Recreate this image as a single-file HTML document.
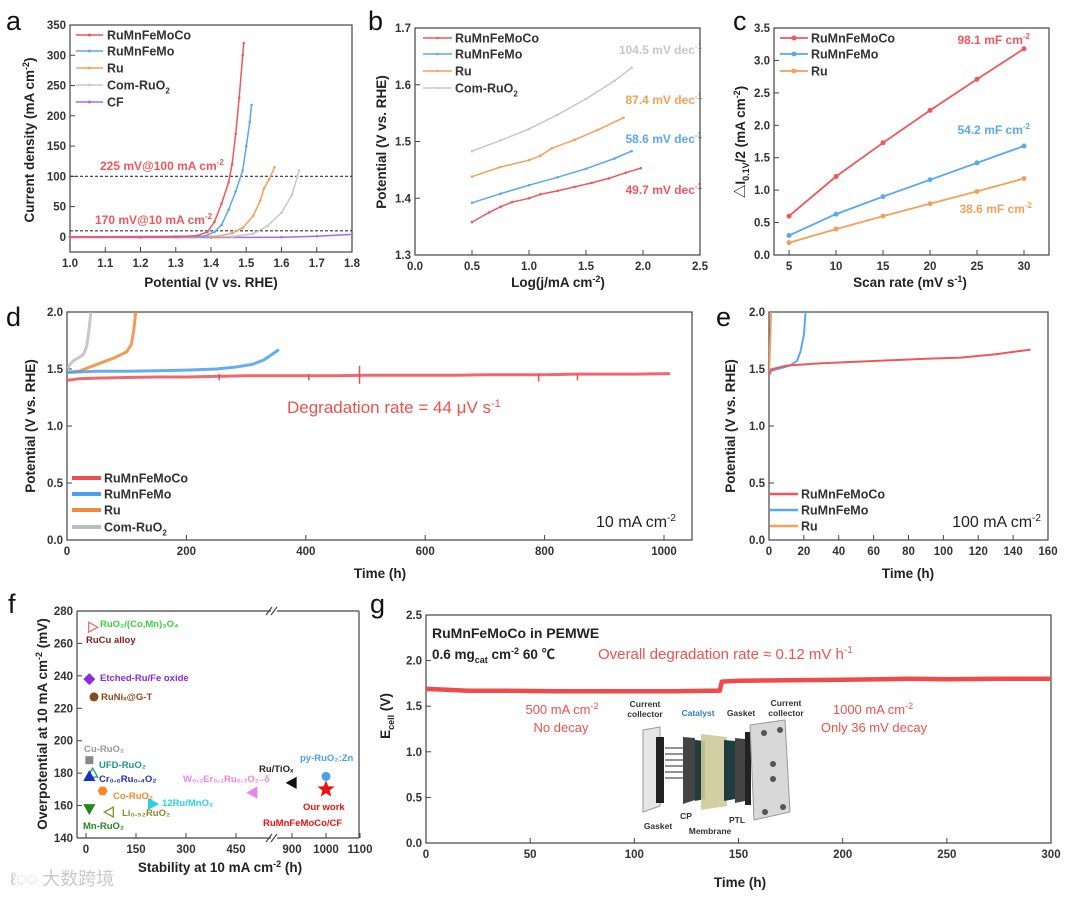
<!DOCTYPE html>
<html><head><meta charset="utf-8">
<style>
html,body{margin:0;padding:0;background:#fff;}
svg{display:block;font-family:"Liberation Sans","Noto Sans CJK SC",sans-serif;}
.t{font-size:11.5px;font-weight:bold;fill:#333;}
.ti{font-size:13.5px;font-weight:bold;fill:#222;}
.lg{font-size:12.5px;font-weight:bold;fill:#333;}
.pl{font-size:27px;fill:#111;}
</style></head>
<body>
<svg id="fig" width="1080" height="897" viewBox="0 0 1080 897" xmlns="http://www.w3.org/2000/svg">
<g id="static">
<text class="pl" x="6" y="30">a</text>
<text class="pl" x="368" y="30">b</text>
<text class="pl" x="733" y="30">c</text>
<text class="pl" x="6" y="326">d</text>
<text class="pl" x="716" y="326">e</text>
<text class="pl" x="8" y="613">f</text>
<text class="pl" x="370" y="613">g</text>

<text class="ti" x="211" y="287" text-anchor="middle">Potential (V vs. RHE)</text>
<text class="ti" transform="translate(34,140) rotate(-90)" text-anchor="middle">Current density (mA cm<tspan dy="-5" font-size="9">-2</tspan><tspan dy="5">)</tspan></text>
<text class="ti" x="558" y="287" text-anchor="middle">Log(j/mA cm<tspan dy="-5" font-size="9">-2</tspan><tspan dy="5">)</tspan></text>
<text class="ti" transform="translate(386,142) rotate(-90)" text-anchor="middle">Potential (V vs. RHE)</text>
<text class="ti" x="910" y="287" text-anchor="middle">Scan rate (mV s<tspan dy="-5" font-size="9">-1</tspan><tspan dy="5">)</tspan></text>
<text class="ti" transform="translate(745,142) rotate(-90)" text-anchor="middle">△I<tspan dy="4" font-size="9">0.1V</tspan><tspan dy="-4">/2 (mA cm</tspan><tspan dy="-5" font-size="9">-2</tspan><tspan dy="5">)</tspan></text>
<text class="ti" x="380" y="578" text-anchor="middle">Time (h)</text>
<text class="ti" transform="translate(35,426) rotate(-90)" text-anchor="middle">Potential (V vs. RHE)</text>
<text class="ti" x="908" y="578" text-anchor="middle">Time (h)</text>
<text class="ti" transform="translate(735,426) rotate(-90)" text-anchor="middle">Potential (V vs. RHE)</text>
<text class="ti" x="220" y="872" text-anchor="middle">Stability at 10 mA cm<tspan dy="-5" font-size="9">-2</tspan><tspan dy="5"> (h)</tspan></text>
<text class="ti" transform="translate(47,724) rotate(-90)" text-anchor="middle">Overpotential at 10 mA cm<tspan dy="-5" font-size="9">-2</tspan><tspan dy="5"> (mV)</tspan></text>
<text class="ti" x="740" y="887" text-anchor="middle">Time (h)</text>
<text class="ti" transform="translate(390,716) rotate(-90)" text-anchor="middle">E<tspan dy="4" font-size="9">cell</tspan><tspan dy="-4"> (V)</tspan></text>

<text x="100" y="170" font-size="12" font-weight="bold" fill="#f0575d">225 mV@100 mA cm<tspan dy="-5" font-size="8">-2</tspan></text>
<text x="95" y="224" font-size="12" font-weight="bold" fill="#f0575d">170 mV@10 mA cm<tspan dy="-5" font-size="8">-2</tspan></text>
<text x="702" y="54" font-size="12" font-weight="bold" fill="#c8c8c8" text-anchor="end">104.5 mV dec<tspan dy="-5" font-size="8">-1</tspan></text>
<text x="702" y="104" font-size="12" font-weight="bold" fill="#f5a05a" text-anchor="end">87.4 mV dec<tspan dy="-5" font-size="8">-1</tspan></text>
<text x="702" y="143" font-size="12" font-weight="bold" fill="#5aa8ee" text-anchor="end">58.6 mV dec<tspan dy="-5" font-size="8">-1</tspan></text>
<text x="702" y="194" font-size="12" font-weight="bold" fill="#f0575d" text-anchor="end">49.7 mV dec<tspan dy="-5" font-size="8">-1</tspan></text>
<text x="1030" y="44" font-size="12" font-weight="bold" fill="#f0575d" text-anchor="end">98.1 mF cm<tspan dy="-5" font-size="8">-2</tspan></text>
<text x="1030" y="134" font-size="12" font-weight="bold" fill="#5aa8ee" text-anchor="end">54.2 mF cm<tspan dy="-5" font-size="8">-2</tspan></text>
<text x="1032" y="213" font-size="12" font-weight="bold" fill="#f5a05a" text-anchor="end">38.6 mF cm<tspan dy="-5" font-size="8">-2</tspan></text>
<text x="287" y="413" font-size="17" fill="#f0504a">Degradation rate = 44 μV s<tspan dy="-6" font-size="11">-1</tspan></text>
<text x="676" y="527" font-size="16" fill="#222" text-anchor="end">10 mA cm<tspan dy="-6" font-size="10">-2</tspan></text>
<text x="1041" y="527" font-size="16" fill="#222" text-anchor="end">100 mA cm<tspan dy="-6" font-size="10">-2</tspan></text>

<text x="432" y="638" font-size="14" font-weight="bold" fill="#222">RuMnFeMoCo in PEMWE</text>
<text x="432" y="659" font-size="13.5" font-weight="bold" fill="#222">0.6 mg<tspan dy="4" font-size="9">cat</tspan><tspan dy="-4"> cm</tspan><tspan dy="-5" font-size="9">-2</tspan><tspan dy="5"> 60 ℃</tspan></text>
<text x="598" y="659" font-size="15" fill="#f0504a">Overall degradation rate ≈ 0.12 mV h<tspan dy="-6" font-size="10">-1</tspan></text>
<text x="562" y="714" font-size="13" fill="#f0504a" text-anchor="middle">500 mA cm<tspan dy="-5" font-size="9">-2</tspan></text>
<text x="561" y="732" font-size="13" fill="#f0504a" text-anchor="middle">No decay</text>
<text x="873" y="714" font-size="13" fill="#f0504a" text-anchor="middle">1000 mA cm<tspan dy="-5" font-size="9">-2</tspan></text>
<text x="874" y="732" font-size="13" fill="#f0504a" text-anchor="middle">Only 36 mV decay</text>

<g>
<polygon points="643,730 660,727 660,806 643,812" fill="#e6e6e6" stroke="#999"/>
<rect x="656" y="737" width="8" height="66" fill="#222"/>
<g stroke="#555" stroke-width="1.2"><line x1="665" y1="748" x2="683" y2="748"/><line x1="665" y1="754" x2="683" y2="754"/><line x1="665" y1="760" x2="683" y2="760"/><line x1="665" y1="766" x2="683" y2="766"/><line x1="665" y1="772" x2="683" y2="772"/><line x1="665" y1="778" x2="683" y2="778"/></g>
<polygon points="683,737 695,738 695,800 683,804" fill="#444"/>
<polygon points="695,740 705,741 705,799 695,801" fill="#1f3d3f"/>
<polygon points="701,734 727,737 727,806 701,810" fill="#cfc99a" opacity="0.9"/>
<polygon points="724,740 735,741 735,799 724,801" fill="#1f3d3f"/>
<polygon points="735,738 745,739 745,801 735,803" fill="#444"/>
<rect x="745" y="732" width="6" height="73" fill="#222"/>
<polygon points="750,725 785,720 790,812 754,820" fill="#d8d8d8" stroke="#999"/>
<circle cx="764" cy="733" r="3" fill="#555"/><circle cx="780" cy="730" r="3" fill="#555"/><circle cx="773" cy="764" r="3" fill="#555"/><circle cx="773" cy="779" r="3" fill="#555"/><circle cx="765" cy="812" r="3" fill="#555"/><circle cx="783" cy="807" r="3" fill="#555"/>
<g font-size="8.5" font-weight="bold" fill="#333" text-anchor="middle">
<text x="645" y="707">Current</text><text x="645" y="717">collector</text>
<text x="698" y="716" fill="#2c7fb8">Catalyst</text>
<text x="741" y="716">Gasket</text>
<text x="786" y="706">Current</text><text x="786" y="716">collector</text>
<text x="658" y="829">Gasket</text>
<text x="686" y="819">CP</text>
<text x="710" y="834">Membrane</text>
<text x="737" y="823">PTL</text>
</g>
</g>

<text x="10" y="885" font-size="18" fill="#c9c9c9">ℓ◌◌ 大数跨境</text>
</g>
<g id="plots"></g>
</svg>
<script>
// ---------- DATA ----------
const aPotRuMnFeMoCo = [1.0,1.30,1.36,1.39,1.41,1.43,1.45,1.46,1.47,1.48,1.49,1.493];
const aCurRuMnFeMoCo = [0,0.5,2,8,25,55,90,120,170,230,300,320];
const aPotRuMnFeMo = [1.0,1.38,1.41,1.43,1.45,1.47,1.49,1.50,1.51,1.515];
const aCurRuMnFeMo = [0,1,8,20,45,75,110,150,190,218];
const aPotRu = [1.0,1.42,1.46,1.49,1.52,1.54,1.55,1.565,1.58];
const aCurRu = [0,1,6,15,35,60,80,95,115];
const aPotRuO2 = [1.0,1.46,1.52,1.56,1.60,1.63,1.645,1.65];
const aCurRuO2 = [0,0.5,5,18,40,70,100,110];
const aPotCF = [1.0,1.2,1.4,1.6,1.7,1.8];
const aCurCF = [-1,-1,-1,-0.5,1,4];
const aXTicks = [1.0,1.1,1.2,1.3,1.4,1.5,1.6,1.7,1.8];
const aYTicks = [0,50,100,150,200,250,300,350];
const aRefLines = [100,10];
const bLogRuMnFeMoCo = [0.5,0.65,0.75,0.85,1.0,1.1,1.25,1.4,1.55,1.7,1.85,1.98];
const bPotRuMnFeMoCo = [1.358,1.375,1.385,1.393,1.400,1.407,1.413,1.420,1.427,1.435,1.445,1.453];
const bLogRuMnFeMo = [0.5,0.75,1.0,1.25,1.5,1.75,1.9];
const bPotRuMnFeMo = [1.392,1.408,1.423,1.437,1.452,1.470,1.483];
const bLogRu = [0.5,0.75,1.0,1.1,1.2,1.4,1.6,1.83];
const bPotRu = [1.438,1.455,1.467,1.475,1.488,1.503,1.520,1.542];
const bLogRuO2 = [0.5,0.75,1.0,1.25,1.5,1.75,1.9];
const bPotRuO2 = [1.483,1.502,1.522,1.547,1.575,1.607,1.630];
const bXTicks = [0.0,0.5,1.0,1.5,2.0,2.5];
const bYTicks = [1.3,1.4,1.5,1.6,1.7];
const cScan = [5,10,15,20,25,30];
const cRuMnFeMoCo = [0.60,1.21,1.73,2.23,2.71,3.18];
const cRuMnFeMo = [0.30,0.63,0.90,1.16,1.42,1.68];
const cRu = [0.19,0.40,0.60,0.79,0.98,1.18];
const cXTicks = [5,10,15,20,25,30];
const cYTicks = [0,0.5,1.0,1.5,2.0,2.5,3.0,3.5];
const dTimeRed = [0,20,50,100,150,200,250,300,350,400,450,500,550,600,650,700,750,800,850,900,950,1010];
const dPotRed = [1.40,1.415,1.42,1.425,1.43,1.43,1.435,1.44,1.44,1.44,1.44,1.445,1.445,1.445,1.445,1.45,1.45,1.45,1.455,1.455,1.455,1.46];
const dSpikeTimes = [255,405,490,790,855];
const dSpikeDepth = [0.04,0.04,0.07,0.05,0.04];
const dTimeBlue = [0,50,100,150,200,250,280,310,330,355];
const dPotBlue = [1.47,1.48,1.48,1.485,1.49,1.50,1.515,1.54,1.58,1.67];
const dTimeOrange = [0,20,40,60,80,100,108,112,115];
const dPotOrange = [1.47,1.48,1.52,1.56,1.60,1.65,1.72,1.85,2.0];
const dTimeGray = [0,5,10,20,28,33,37,40];
const dPotGray = [1.50,1.54,1.57,1.60,1.63,1.70,1.85,2.0];
const dXTicks = [0,200,400,600,800,1000];
const dYTicks = [0,0.5,1.0,1.5,2.0];
const eTimeRed = [0,1,2,10,30,60,90,110,130,150];
const ePotRed = [1.44,1.48,1.50,1.53,1.55,1.57,1.59,1.60,1.63,1.67];
const eTimeBlue = [0,5,12,16,18,20,21];
const ePotBlue = [1.48,1.50,1.53,1.57,1.65,1.80,2.0];
const eTimeOrange = [0,0.4,0.8,1.2];
const ePotOrange = [1.45,1.6,1.8,2.0];
const eXTicks = [0,20,40,60,80,100,120,140,160];
const eYTicks = [0,0.5,1.0,1.5,2.0];
const fNames = ["RuO2/(Co,Mn)3O4","Etched-Ru/Fe oxide","RuNix@G-T","Cu-RuO2","UFD-RuO2","Cr0.6Ru0.4O2","Co-RuO2","12Ru/MnO2","Mn-RuO2","Li0.52RuO2","W0.2Er0.1Ru0.7O2-δ","Ru/TiOx","py-RuO2:Zn","Our work"];
const fStability = [20,10,24,10,20,10,50,200,10,70,500,900,1000,1000];
const fOverpot = [270,238,227,188,180,178,169,161,158,156,168,174,178,170];
const fXTicks = [0,150,300,450,900,1000,1100];
const fYTicks = [140,160,180,200,220,240,260,280];
const gTime = [0,10,20,40,60,80,100,120,135,141,142,150,175,200,232,250,275,300];
const gVolt = [1.69,1.68,1.67,1.67,1.665,1.665,1.665,1.665,1.67,1.67,1.77,1.78,1.785,1.79,1.80,1.795,1.80,1.80];
const gXTicks = [0,50,100,150,200,250,300];
const gYTicks = [0,0.5,1.0,1.5,2.0,2.5];

// ---------- RENDER ----------
const NS = "http://www.w3.org/2000/svg";
const root = document.getElementById('plots');
function mk(tag, attrs, parent){
  const e = document.createElementNS(NS, tag);
  for (const k in attrs) e.setAttribute(k, attrs[k]);
  (parent||root).appendChild(e);
  return e;
}
function lin(d0,d1,r0,r1){ return v => r0 + (v-d0)/(d1-d0)*(r1-r0); }
const RED="#f0575d", BLUE="#5aa8ee", ORANGE="#f5a05a", GRAY="#c8c8c8", PURPLE="#a36cf0";

function frame(name,x0,y0,x1,y1){
  const r = mk('rect',{x:x0,y:y0,width:x1-x0,height:y1-y0,fill:'none',stroke:'#444','stroke-width':1.2});
  
  
}
function xTicks(name,ticks,sx,yb,fmt){
  ticks.forEach(v=>{
    const x=sx(v);
    const l = mk('line',{x1:x,y1:yb,x2:x,y2:yb-5,stroke:'#444'});
    
    
    const t = mk('text',{x:x,y:yb+15,'text-anchor':'middle','class':'t'});
    
    
    t.textContent = fmt(v);
  });
}
function yTicks(name,ticks,sy,xl,fmt){
  ticks.forEach(v=>{
    const y=sy(v);
    const l = mk('line',{x1:xl,y1:y,x2:xl+5,y2:y,stroke:'#444'});
    
    
    const t = mk('text',{x:xl-4,y:y+4,'text-anchor':'end','class':'t'});
    
    
    t.textContent = fmt(v);
  });
}
function series(name,xs,ys,sx,sy,color,w,markers,op){
  const pts = xs.map((x,i)=>sx(x).toFixed(1)+','+sy(ys[i]).toFixed(1)).join(' ');
  const p = mk('polyline',{points:pts,fill:'none',stroke:color,'stroke-width':w,'stroke-linejoin':'round','stroke-opacity':op||1});
  
  
  if (markers){
    xs.forEach((x,i)=>{
      const c = mk('circle',{cx:sx(x),cy:sy(ys[i]),r:markers,fill:color});
      
      
    });
  }
}
function legend(name,items,x0,x1,tx,ys,w,marker,cls){
  items.forEach((it,i)=>{
    const l = mk('line',{x1:x0,y1:ys[i],x2:x1,y2:ys[i],stroke:it[1],'stroke-width':w});
    
    
    if (marker){
      const c = mk('circle',{cx:(x0+x1)/2,cy:ys[i],r:marker,fill:it[1]});
      
      
    }
    const t = mk('text',{x:tx,y:ys[i]+4.5,'class':cls||'lg'});
    
    
    t.textContent = it[0];
    if (it[2]){ const s = mk('tspan',{dy:4,'font-size':8},t); s.textContent=it[2]; }
  });
}
const f1 = v=>v.toFixed(1);
const f0 = v=>String(v);

(function(){
  const sx=lin(1.0,1.8,70,352), sy=lin(-25,350,252,25);
  frame('a',70,25,352,252);
  xTicks('a',aXTicks,sx,252,f1); yTicks('a',aYTicks,sy,70,f0);
  aRefLines.forEach(v=>{
    const l = mk('line',{x1:70,y1:sy(v),x2:352,y2:sy(v),stroke:'#333','stroke-dasharray':'3,2','stroke-width':1.2});
    
    
  });
  series('a-line-cf',aPotCF,aCurCF,sx,sy,PURPLE,1.5,1.3);
  series('a-line-com-ruo2',aPotRuO2,aCurRuO2,sx,sy,GRAY,1.5,1.3);
  series('a-line-ru',aPotRu,aCurRu,sx,sy,ORANGE,1.5,1.3);
  series('a-line-rumnfemo',aPotRuMnFeMo,aCurRuMnFeMo,sx,sy,BLUE,1.5,1.3);
  series('a-line-rumnfemoco',aPotRuMnFeMoCo,aCurRuMnFeMoCo,sx,sy,RED,1.5,1.3);
  legend('a',[['RuMnFeMoCo',RED],['RuMnFeMo',BLUE],['Ru',ORANGE],['Com-RuO',GRAY,'2'],['CF',PURPLE]],76,103,107,[35,51,68,85,102],1.5,1.5);
})();
(function(){
  const sx=lin(0,2.5,415,700), sy=lin(1.3,1.7,255,28);
  frame('b',415,28,700,255);
  xTicks('b',bXTicks,sx,255,f1); yTicks('b',bYTicks,sy,415,f1);
  series('b-line-com-ruo2',bLogRuO2,bPotRuO2,sx,sy,GRAY,1.5,1.3);
  series('b-line-ru',bLogRu,bPotRu,sx,sy,ORANGE,1.5,1.3);
  series('b-line-rumnfemo',bLogRuMnFeMo,bPotRuMnFeMo,sx,sy,BLUE,1.5,1.3);
  series('b-line-rumnfemoco',bLogRuMnFeMoCo,bPotRuMnFeMoCo,sx,sy,RED,1.5,1.3);
  legend('b',[['RuMnFeMoCo',RED],['RuMnFeMo',BLUE],['Ru',ORANGE],['Com-RuO',GRAY,'2']],423,452,455,[38,54,71,88],1.5,1.3);
})();
(function(){
  const sx=lin(3.4,32.66,774,1049), sy=lin(0,3.5,255,28);
  frame('c',774,28,1049,255);
  xTicks('c',cXTicks,sx,255,f0); yTicks('c',cYTicks,sy,774,f1);
  series('c-line-ru',cScan,cRu,sx,sy,ORANGE,1.8,2.5);
  series('c-line-rumnfemo',cScan,cRuMnFeMo,sx,sy,BLUE,1.8,2.5);
  series('c-line-rumnfemoco',cScan,cRuMnFeMoCo,sx,sy,RED,1.8,2.5);
  legend('c',[['RuMnFeMoCo',RED],['RuMnFeMo',BLUE],['Ru',ORANGE]],780,808,811,[38,54,71],1.8,2.5);
})();
(function(){
  const sx=lin(0,1000,67,664), sy=lin(0,2,540,312);
  const clip = mk('clipPath',{id:'clipd'}); mk('rect',{x:67,y:312,width:625,height:228},clip);
  frame('d',67,312,692,540);
  xTicks('d',dXTicks,sx,540,f0); yTicks('d',dYTicks,sy,67,f1);
  const g = mk('g',{'clip-path':'url(#clipd)'});
  
  
  const mk2=(n,xs,ys,c)=>{ const pts=xs.map((x,i)=>sx(x).toFixed(1)+','+sy(ys[i]).toFixed(1)).join(' ');
    const p=mk('polyline',{points:pts,fill:'none',stroke:c,'stroke-width':3,'stroke-opacity':0.85},g);
    
     };
  mk2('d-line-com-ruo2',dTimeGray,dPotGray,'#bdbdbd');
  mk2('d-line-ru',dTimeOrange,dPotOrange,'#f08a3c');
  mk2('d-line-rumnfemo',dTimeBlue,dPotBlue,'#4a9ff0');
  mk2('d-line-rumnfemoco',dTimeRed,dPotRed,'#ec4d52');
  dSpikeTimes.forEach((t,i)=>{
    const x=sx(t), base=sy(1.44);
    const l=mk('line',{x1:x,y1:base-(t===490?10:2),x2:x,y2:base+dSpikeDepth[i]*114,stroke:'#ec4d52','stroke-width':1.5},g);
    
    
  });
  legend('d',[['RuMnFeMoCo','#ec4d52'],['RuMnFeMo','#4a9ff0'],['Ru','#f08a3c'],['Com-RuO','#bdbdbd','2']],72,101,104,[478,494,510,527],4,0);
})();
(function(){
  const sx=lin(0,160,769,1048), sy=lin(0,2,540,312);
  const clip = mk('clipPath',{id:'clipe'}); mk('rect',{x:769,y:312,width:279,height:228},clip);
  frame('e',769,312,1048,540);
  xTicks('e',eXTicks,sx,540,f0); yTicks('e',eYTicks,sy,769,f1);
  const g = mk('g',{'clip-path':'url(#clipe)'});
  
  
  const mk2=(n,xs,ys,c)=>{ const pts=xs.map((x,i)=>sx(x).toFixed(1)+','+sy(ys[i]).toFixed(1)).join(' ');
    const p=mk('polyline',{points:pts,fill:'none',stroke:c,'stroke-width':2},g);
    
     };
  mk2('e-line-ru',eTimeOrange,ePotOrange,ORANGE);
  mk2('e-line-rumnfemo',eTimeBlue,ePotBlue,BLUE);
  mk2('e-line-rumnfemoco',eTimeRed,ePotRed,RED);
  legend('e',[['RuMnFeMoCo',RED],['RuMnFeMo',BLUE],['Ru',ORANGE]],770,798,801,[494,510,526],2.5,0);
})();
(function(){
  const sxL=lin(0,450,86,236), sxR=lin(900,1000,292,326);
  const sx=v=> v<=700 ? sxL(v) : sxR(v);
  const sy=lin(140,280,838,611);
  const fr=[[77,611,271,611],[277,611,359,611],[77,838,271,838],[277,838,359,838],[77,611,77,838],[359,611,359,838]];
  fr.forEach(s=>{ const l=mk('line',{x1:s[0],y1:s[1],x2:s[2],y2:s[3],stroke:'#444','stroke-width':1.2});
    
     });
  [[266,615,272,607],[271,615,277,607],[266,842,272,834],[271,842,277,834]].forEach(s=>{
    const l=mk('line',{x1:s[0],y1:s[1],x2:s[2],y2:s[3],stroke:'#444','stroke-width':1.2});
    
     });
  xTicks('f',fXTicks,sx,838,f0); yTicks('f',fYTicks,sy,77,f0);
  const colors=['#f26f6f','#8b2be2','#8b4a1e','#888','#1a9a8a','#1a2fd0','#f5892a','#28d2e0','#1f8a1f','#8a8a2a','#ee80ee','#111','#4aa0ee','#f01010'];
  const shapes=['rtri-o','diamond','circle','square','utri-o','utri','hex','rtri','dtri','ltri-o','ltri','ltri','circle','star'];
  fStability.forEach((s,i)=>{
    const x=sx(s), y=sy(fOverpot[i]), c=colors[i], sh=shapes[i];
    let e;
    const open = sh.endsWith('-o');
    const fill = open ? 'none' : c;
    const base = sh.replace('-o','');
    if (base==='circle') e=mk('circle',{cx:x,cy:y,r:4.5,fill:c});
    else if (base==='square') e=mk('rect',{x:x-4,y:y-4,width:8,height:8,fill:c});
    else if (base==='diamond') e=mk('polygon',{points:`${x},${y-6} ${x+6},${y} ${x},${y+6} ${x-6},${y}`,fill:c});
    else if (base==='hex') e=mk('polygon',{points:[0,1,2,3,4,5].map(k=>`${x+5*Math.cos(k*Math.PI/3)},${y+5*Math.sin(k*Math.PI/3)}`).join(' '),fill:c});
    else if (base==='utri') e=mk('polygon',{points:`${x},${y-5} ${x+5},${y+4} ${x-5},${y+4}`,fill:fill,stroke:c,'stroke-width':1.3});
    else if (base==='dtri') e=mk('polygon',{points:`${x},${y+5} ${x+5},${y-4} ${x-5},${y-4}`,fill:fill,stroke:c,'stroke-width':1.3});
    else if (base==='rtri') e=mk('polygon',{points:`${x+5},${y} ${x-4},${y-5} ${x-4},${y+5}`,fill:fill,stroke:c,'stroke-width':1.3});
    else if (base==='ltri') e=mk('polygon',{points:`${x-5},${y} ${x+4},${y-5} ${x+4},${y+5}`,fill:fill,stroke:c,'stroke-width':1.3});
    else if (base==='star') e=mk('polygon',{points:[...Array(10).keys()].map(k=>{const r=k%2?3.8:9;const a=-Math.PI/2+k*Math.PI/5;return `${x+r*Math.cos(a)},${y+r*Math.sin(a)}`;}).join(' '),fill:c});
    
    
  });
  const labs=[
    ['RuO₂/(Co,Mn)₃O₄',100,627,'#3ad23a'],['RuCu alloy',86,643,'#8b1a1a'],['Etched-Ru/Fe oxide',100,681,'#8b2be2'],
    ['RuNiₓ@G-T',101,700,'#8b4a1e'],['Cu-RuO₂',84,752,'#999'],['UFD-RuO₂',99,768,'#1a9a8a'],['Cr₀.₆Ru₀.₄O₂',99,782,'#1a2fd0'],
    ['Co-RuO₂',113,799,'#f5892a'],['12Ru/MnO₂',162,806,'#28d2e0'],['Li₀.₅₂RuO₂',122,816,'#8a8a2a'],['Mn-RuO₂',83,829,'#1f8a1f'],
    ['W₀.₂Er₀.₁Ru₀.₇O₂₋δ',183,782,'#ee80ee'],['Ru/TiOₓ',259,772,'#222'],['py-RuO₂:Zn',300,761,'#4aa0ee'],
    ['Our work',303,810,'#f01010'],['RuMnFeMoCo/CF',263,826,'#f01010']];
  labs.forEach(l=>{
    const t=mk('text',{x:l[1],y:l[2],'font-size':9.5,'font-weight':'bold',fill:l[3]});
    
    
    t.textContent=l[0];
  });
})();
(function(){
  const sx=lin(0,300,426,1051), sy=lin(0,2.5,843,615);
  frame('g',426,615,1051,843);
  xTicks('g',gXTicks,sx,843,f0); yTicks('g',gYTicks,sy,426,f1);
  series('g-line-rumnfemoco',gTime,gVolt,sx,sy,'#f04a4a',4.5,0);
})();
</script>
</body></html>
